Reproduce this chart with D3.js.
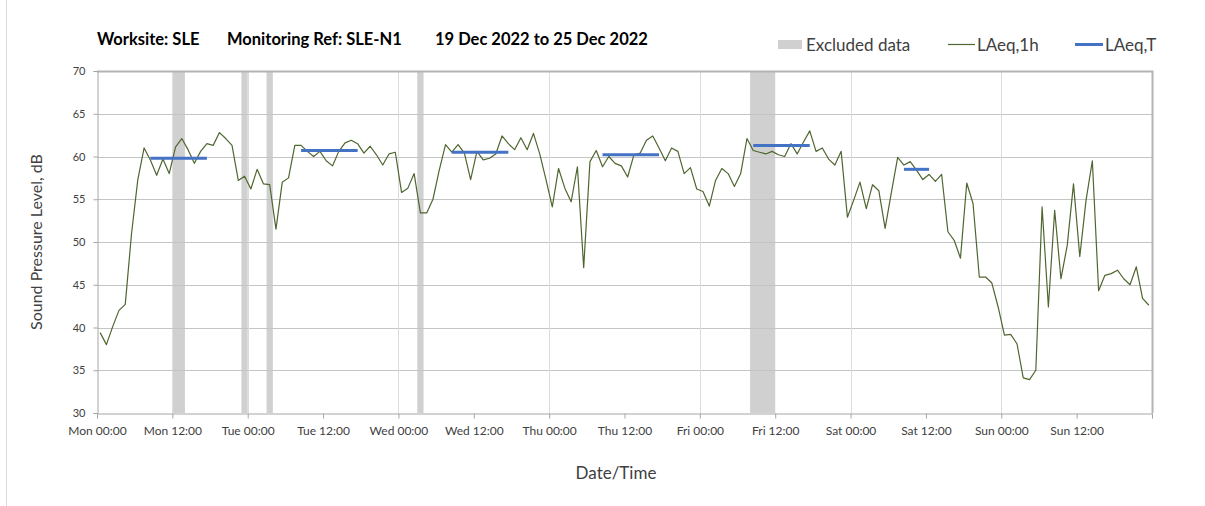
<!DOCTYPE html>
<html>
<head>
<meta charset="utf-8">
<script src="https://cdn.jsdelivr.net/npm/d3@7"></script>
<style>
	body { margin: 0; background: #fff; }
	text { font-family: Lato, "Open Sans", sans-serif; fill: #404040; }
</style>
</head>
<body>
<div id="charts"></div>
<script>
// hourly LAeq,1h values, one per hour from Mon 00:00 (plotted at mid hour)
var laeq1h = [
	39.4, 38.0, 40.1, 42.0, 42.7, 51.0, 57.3, 61.0, 59.6, 57.8, 59.7, 58.0,
	61.1, 62.1, 60.8, 59.2, 60.6, 61.5, 61.3, 62.8, 62.1, 61.3, 57.2, 57.7,
	56.2, 58.5, 56.8, 56.7, 51.5, 57.0, 57.5, 61.3, 61.3, 60.6, 60.0, 60.6,
	59.5, 58.9, 60.6, 61.6, 61.9, 61.5, 60.4, 61.2, 60.2, 59.0, 60.3, 60.5,
	55.8, 56.3, 58.0, 53.4, 53.4, 55.0, 58.4, 61.4, 60.5, 61.4, 60.4, 57.3,
	60.6, 59.6, 59.8, 60.3, 62.4, 61.5, 60.8, 62.2, 60.8, 62.7, 60.3, 57.3,
	54.1, 58.6, 56.3, 54.7, 58.8, 47.0, 59.4, 60.7, 58.8, 60.0, 59.2, 58.9,
	57.6, 60.2, 60.4, 61.9, 62.4, 61.0, 59.5, 61.0, 60.6, 58.0, 58.7, 56.2,
	55.9, 54.2, 57.2, 58.6, 58.0, 56.5, 58.0, 62.1, 60.7, 60.5, 60.3, 60.6,
	60.2, 60.0, 61.5, 60.3, 61.7, 63.0, 60.6, 61.0, 59.7, 59.0, 60.6, 52.9,
	54.9, 57.0, 53.9, 56.7, 56.0, 51.6, 55.8, 59.9, 59.0, 59.4, 58.4, 57.3,
	57.9, 57.1, 57.9, 51.2, 50.2, 48.1, 56.9, 54.5, 45.9, 45.9, 45.2, 42.4,
	39.1, 39.2, 38.1, 34.1, 33.9, 35.0, 54.1, 42.4, 53.7, 45.7, 49.6, 56.8,
	48.3, 54.9, 59.5, 44.3, 46.1, 46.3, 46.7, 45.7, 45.0, 47.1, 43.4, 42.6
];

// LAeq,T daytime periods: [first hour, last hour, level]
var laeqT = [
	[8, 17, 59.8],
	[32, 41, 60.7],
	[56, 65, 60.5],
	[80, 89, 60.2],
	[104, 113, 61.3],
	[128, 132, 58.5]
];

// excluded data periods, hours from Mon 00:00
var excluded = [[12, 14], [23, 24], [27, 28], [51, 52], [104, 108]];

var dayNames = ["Mon", "Tue", "Wed", "Thu", "Fri", "Sat", "Sun"];
var tickHours = d3.range(0, 168, 12);
var tickLabels = tickHours.map(function (h) {
	return dayNames[Math.floor(h / 24)] + " " + (h % 24 === 0 ? "00:00" : "12:00");
});
var yTicks = [30, 35, 40, 45, 50, 55, 60, 65, 70];

var width = 1205, height = 506;
var margin = { left: 97, right: 1152, top: 71, bottom: 413 };

var svg = d3.select("#charts")
	.append("svg")
	.attr("width", width)
	.attr("height", height);

var x = d3.scaleLinear().domain([0, 168]).range([margin.left, margin.right]);
var y = d3.scaleLinear().domain([30, 70]).range([margin.bottom, margin.top]);

// outer chart frame edge
svg.append("line")
	.attr("x1", 6.5).attr("x2", 6.5).attr("y1", 0).attr("y2", height)
	.attr("stroke", "#d9d9d9");

// excluded bands
svg.selectAll("rect.excl")
	.data(excluded)
	.enter()
	.append("rect")
	.attr("class", "excl")
	.attr("x", function (d) { return x(d[0]); })
	.attr("width", function (d) { return x(d[1]) - x(d[0]); })
	.attr("y", y(70))
	.attr("height", y(30) - y(70))
	.attr("fill", "#d0d0d0");

// horizontal gridlines
svg.selectAll("line.hgrid")
	.data(yTicks.slice(1, -1))
	.enter()
	.append("line")
	.attr("class", "hgrid")
	.attr("x1", margin.left).attr("x2", margin.right)
	.attr("y1", function (d) { return Math.round(y(d)) + 0.5; })
	.attr("y2", function (d) { return Math.round(y(d)) + 0.5; })
	.attr("stroke", "#c4c4c4");

// vertical day gridlines
svg.selectAll("line.vgrid")
	.data(d3.range(24, 168, 24))
	.enter()
	.append("line")
	.attr("class", "vgrid")
	.attr("x1", function (d) { return Math.round(x(d)) + 0.5; })
	.attr("x2", function (d) { return Math.round(x(d)) + 0.5; })
	.attr("y1", margin.top).attr("y2", margin.bottom)
	.attr("stroke", "#dcdcdc");

// plot frame
svg.append("path")
	.attr("d", "M" + margin.left + "," + (margin.top + 0.5) + "H" + (margin.right + 0.5) + "V" + margin.bottom)
	.attr("fill", "none")
	.attr("stroke", "#b3b3b3")
	.attr("stroke-width", 2);

// axes
var xAxis = d3.axisBottom(x)
	.tickValues(tickHours.concat([168]))
	.tickSize(5)
	.tickFormat(function (d, i) { return tickLabels[i] || ""; });

var gx = svg.append("g")
	.attr("transform", "translate(0," + (margin.bottom + 0.5) + ")")
	.call(xAxis);
gx.select(".domain").attr("stroke", "#a6a6a6");
gx.selectAll(".tick line").attr("stroke", "#a6a6a6");
gx.selectAll(".tick text")
	.attr("y", 13)
	.attr("font-size", 12)
	.attr("font-family", "Lato, sans-serif")
	.attr("fill", "#404040");

var yAxis = d3.axisLeft(y)
	.tickValues(yTicks)
	.tickSize(4)
	.tickPadding(8);

var gy = svg.append("g")
	.attr("transform", "translate(" + (margin.left + 0.5) + ",0)")
	.call(yAxis);
gy.select(".domain").attr("stroke", "#a6a6a6");
gy.selectAll(".tick line").attr("stroke", "#a6a6a6");
gy.selectAll(".tick text")
	.attr("font-size", 11)
	.attr("font-family", "Lato, sans-serif")
	.attr("fill", "#404040");

// LAeq,1h line
var line = d3.line()
	.x(function (d, i) { return x(i + 0.5); })
	.y(function (d) { return y(d); });

svg.append("path")
	.datum(laeq1h)
	.attr("d", line)
	.attr("fill", "none")
	.attr("stroke", "#4f6630")
	.attr("stroke-width", 1.2)
	.attr("stroke-linejoin", "round");

// LAeq,T segments
svg.selectAll("line.laeqT")
	.data(laeqT)
	.enter()
	.append("line")
	.attr("class", "laeqT")
	.attr("x1", function (d) { return x(d[0] + 0.5); })
	.attr("x2", function (d) { return x(d[1] + 0.5); })
	.attr("y1", function (d) { return y(d[2]); })
	.attr("y2", function (d) { return y(d[2]); })
	.attr("stroke", "#4472c4")
	.attr("stroke-width", 3);

// title
var titleParts = [
	["Worksite: SLE", 97],
	["Monitoring Ref: SLE-N1", 227],
	["19 Dec 2022 to 25 Dec 2022", 435]
];
svg.selectAll("text.title")
	.data(titleParts)
	.enter()
	.append("text")
	.attr("class", "title")
	.attr("x", function (d) { return d[1]; })
	.attr("y", 45)
	.attr("font-size", 16.5)
	.attr("font-weight", "bold")
	.style("fill", "#000")
	.text(function (d) { return d[0]; });

// axis titles
svg.append("text")
	.attr("transform", "translate(42,242) rotate(-90)")
	.attr("text-anchor", "middle")
	.attr("font-size", 16)
	.text("Sound Pressure Level, dB");

svg.append("text")
	.attr("x", 616)
	.attr("y", 479)
	.attr("text-anchor", "middle")
	.attr("font-size", 17)
	.text("Date/Time");

// legend
var legend = svg.append("g");
legend.append("rect")
	.attr("x", 778).attr("y", 40).attr("width", 24).attr("height", 9)
	.attr("fill", "#d0d0d0");
legend.append("text").attr("x", 806).attr("y", 51).attr("font-size", 17).text("Excluded data");
legend.append("line")
	.attr("x1", 948).attr("x2", 975).attr("y1", 44.5).attr("y2", 44.5)
	.attr("stroke", "#4f6630").attr("stroke-width", 1.2);
legend.append("text").attr("x", 977).attr("y", 51).attr("font-size", 17).text("LAeq,1h");
legend.append("line")
	.attr("x1", 1075).attr("x2", 1103).attr("y1", 44.5).attr("y2", 44.5)
	.attr("stroke", "#4472c4").attr("stroke-width", 3);
legend.append("text").attr("x", 1105).attr("y", 51).attr("font-size", 17).text("LAeq,T");
</script>
</body>
</html>
